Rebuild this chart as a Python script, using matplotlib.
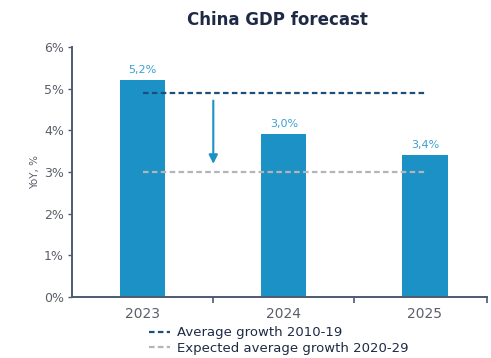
import matplotlib.pyplot as plt

years = ["2023", "2024", "2025"]
gdp = [5.2, 3.9, 3.4]
bar_labels = ["5,2%", "3,0%", "3,4%"]
avg_2010_19 = 4.9
exp_2020_29 = 3.0
yticks = [0, 1, 2, 3, 4, 5, 6]

bar_color = "#1b91c6"
dark_blue = "#1d4f7c"
axis_color = "#4d5a74"
text_gray = "#5a5f6a"

fig = plt.figure(figsize=(4.91, 3.58), dpi=100)
ax = fig.add_axes([0.147, 0.170, 0.845, 0.699])

x = list(range(len(years)))
ax.bar(x, gdp, width=0.32, color=bar_color, zorder=2)
for i, (v, lab) in enumerate(zip(gdp, bar_labels)):
    ax.text(i, v + 0.12, lab, ha="center", va="bottom", fontsize=8, color="#3aa0cf")

# reference lines
l1, = ax.plot([0, 2], [avg_2010_19, avg_2010_19], color=dark_blue, lw=1.6,
              dashes=(2.5, 1.5), zorder=3)
l2, = ax.plot([0, 2], [exp_2020_29, exp_2020_29], color="#b5b5b5", lw=1.6,
              dashes=(2.5, 1.5), zorder=3)
ax.annotate("", xy=(0.5, exp_2020_29 + 0.13), xytext=(0.5, avg_2010_19 - 0.12),
            arrowprops=dict(arrowstyle="-|>", color=bar_color, lw=1.5,
                            mutation_scale=13))

ax.set_xlim(-0.5, 2.44)
ax.set_ylim(0, 6)
ax.set_yticks(yticks)
ax.set_yticklabels([f"{t}%" for t in yticks], fontsize=9, color=text_gray)
ax.set_xticks(x)
ax.set_xticklabels(years, fontsize=10, color=text_gray)
ax.tick_params(axis="x", length=0, pad=7)
ax.tick_params(axis="y", length=3, width=1, color=axis_color, pad=3)
ax.set_xticks([0.5, 1.5, 2.44], minor=True)
ax.tick_params(axis="x", which="minor", length=4, width=1.2, color=axis_color)
ax.set_ylabel("YoY, %", fontsize=7.5, color=text_gray, labelpad=3)

for s in ["top", "right"]:
    ax.spines[s].set_visible(False)
for s in ["left", "bottom"]:
    ax.spines[s].set_color(axis_color)
    ax.spines[s].set_linewidth(1.4)

fig.text(0.566, 0.945, "China GDP forecast", ha="center", va="center",
         fontsize=12, fontweight="bold", color="#1e2a45")

fig.legend([l1, l2], ["Average growth 2010-19", "Expected average growth 2020-29"],
           loc="upper left", bbox_to_anchor=(0.29, 0.107), frameon=False,
           fontsize=9.5, handlelength=1.6, handletextpad=0.5, labelspacing=0.2,
           borderpad=0, labelcolor="#1e2a45")

fig.savefig("out.png", dpi=100)
